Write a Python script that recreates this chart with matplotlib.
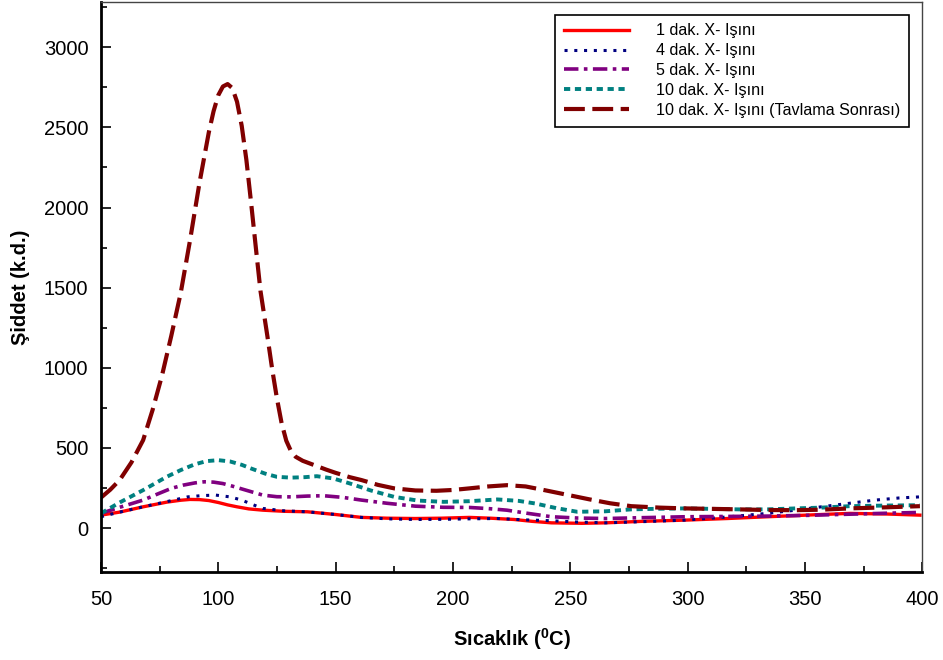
import matplotlib
matplotlib.use('Agg')
import matplotlib.pyplot as plt
from matplotlib.ticker import MultipleLocator

plt.rcParams['font.family'] = ['Liberation Sans', 'DejaVu Sans']
plt.rcParams['mathtext.fontset'] = 'custom'
plt.rcParams['mathtext.rm'] = 'Liberation Sans'
plt.rcParams['mathtext.bf'] = 'Liberation Sans:bold'

# values
x_1dk = [50, 58, 68, 78, 84, 88, 92, 96, 100, 104, 108, 113, 119, 128, 138, 150, 161, 172, 184, 195,
         207, 216, 226, 234, 242, 255, 265, 280, 299, 317, 334, 352, 369, 385, 399]
y_1dk = [81, 100, 133, 162, 174, 179, 178, 172, 160, 145, 133, 120, 112, 105, 102, 85, 67, 62, 60, 62,
         67, 62, 54, 42, 33, 30, 33, 42, 50, 60, 71, 82, 92, 88, 81]

x_4dk = [50, 58, 68, 78, 87, 93, 99, 105, 110, 115, 119, 128, 138, 150, 161, 172, 184, 196, 207, 219,
         230, 242, 253, 265, 280, 299, 317, 334, 346, 357, 369, 380, 390, 399]
y_4dk = [71, 100, 133, 165, 195, 203, 206, 195, 175, 145, 123, 108, 102, 85, 67, 58, 54, 55, 58, 60,
         52, 46, 38, 33, 40, 50, 70, 92, 112, 133, 155, 175, 188, 195]

x_5dk = [50, 58, 68, 75, 80, 85, 90, 94, 98, 102, 106, 112, 119, 125, 131, 138, 145, 153, 161, 172,
         184, 196, 207, 215, 223, 232, 242, 253, 265, 280, 299, 317, 334, 352, 369, 385, 399]
y_5dk = [92, 130, 175, 218, 248, 268, 282, 289, 287, 278, 262, 236, 206, 196, 195, 200, 202, 192, 175,
         155, 137, 130, 129, 122, 112, 92, 71, 63, 60, 65, 71, 73, 75, 80, 87, 93, 98]

x_10dk = [50, 58, 68, 78, 84, 90, 95, 100, 105, 110, 114, 120, 125, 131, 137, 142, 149, 156, 165, 175,
          185, 196, 207, 219, 228, 235, 244, 253, 265, 276, 288, 299, 311, 322, 334, 346, 357, 369,
          385, 399]
y_10dk = [92, 160, 237, 320, 362, 398, 418, 424, 416, 395, 372, 340, 320, 315, 318, 324, 310, 279, 235,
          195, 172, 164, 168, 179, 170, 154, 125, 102, 105, 117, 121, 123, 120, 117, 117, 123, 128,
          137, 141, 143]

x_tav = [50, 54, 58, 63, 68, 72, 76, 80, 84, 88, 92, 96, 98, 100, 102, 104, 106, 108, 110, 112, 114,
         116, 118, 121, 123, 125, 127, 129, 131, 133, 136, 140, 146, 150, 156, 161, 168, 175, 184,
         193, 200, 207, 215, 223, 231, 239, 248, 258, 267, 276, 288, 299, 311, 322, 334, 346, 357,
         369, 385, 399]
y_tav = [190, 240, 300, 410, 549, 736, 950, 1200, 1466, 1797, 2153, 2470, 2600, 2700, 2755, 2770, 2745,
         2660, 2510, 2296, 2030, 1753, 1480, 1192, 990, 810, 655, 545, 480, 445, 420, 398, 365, 345, 318,
         300, 270, 248, 235, 233, 238, 248, 260, 268, 260, 237, 210, 180, 155, 137, 128, 123, 120, 117,
         113, 112, 115, 123, 130, 137]

labels = ['1 dak. X- Işını', '4 dak. X- Işını', '5 dak. X- Işını', '10 dak. X- Işını',
          '10 dak. X- Işını (Tavlama Sonrası)']

fig = plt.figure(figsize=(9.43, 6.6), dpi=100)
ax = fig.add_axes([0.107, 0.133, 0.871, 0.864])

ax.plot(x_1dk, y_1dk, color='#ff0000', lw=2.4, ls='-', label=labels[0])
ax.plot(x_4dk, y_4dk, color='#000080', lw=2.2, ls=(0, (1, 2.2)), label=labels[1])
ax.plot(x_5dk, y_5dk, color='#800080', lw=2.6, ls=(0, (4, 1.5, 1, 1.5)), label=labels[2])
ax.plot(x_10dk, y_10dk, color='#008080', lw=2.8, ls=(0, (1.6, 1.2)), label=labels[3])
ax.plot(x_tav, y_tav, color='#800000', lw=3.0, ls=(0, (5, 1.8)), label=labels[4])

ax.set_xlim(50, 400)
ax.set_ylim(-275, 3282)
ax.xaxis.set_major_locator(MultipleLocator(50))
ax.xaxis.set_minor_locator(MultipleLocator(25))
ax.yaxis.set_major_locator(MultipleLocator(500))
ax.yaxis.set_minor_locator(MultipleLocator(250))
ax.tick_params(which='both', direction='in', top=False, right=False, labelsize=14.5, width=1.2)
ax.tick_params(which='major', length=7)
ax.tick_params(axis='x', which='major', pad=13)
ax.tick_params(axis='y', which='major', pad=9)
ax.tick_params(which='minor', length=4)

for side in ['left', 'bottom']:
    ax.spines[side].set_linewidth(2)
for side in ['top', 'right']:
    ax.spines[side].set_linewidth(1)
    ax.spines[side].set_color('#444444')

ax.set_xlabel(r'Sıcaklık ($\mathbf{^{0}}$C)', fontsize=14.5, fontweight='bold', labelpad=12)
ax.set_ylabel('Şiddet (k.d.)', fontsize=14.5, fontweight='bold', labelpad=10)

leg = ax.legend(loc='upper right', bbox_to_anchor=(0.994, 0.992), fontsize=11.6, fancybox=False,
                edgecolor='black', framealpha=1, handlelength=4.0, handletextpad=1.7,
                borderpad=0.55, labelspacing=0.3)
leg.get_frame().set_linewidth(1.2)

plt.savefig('out.png', dpi=100)
